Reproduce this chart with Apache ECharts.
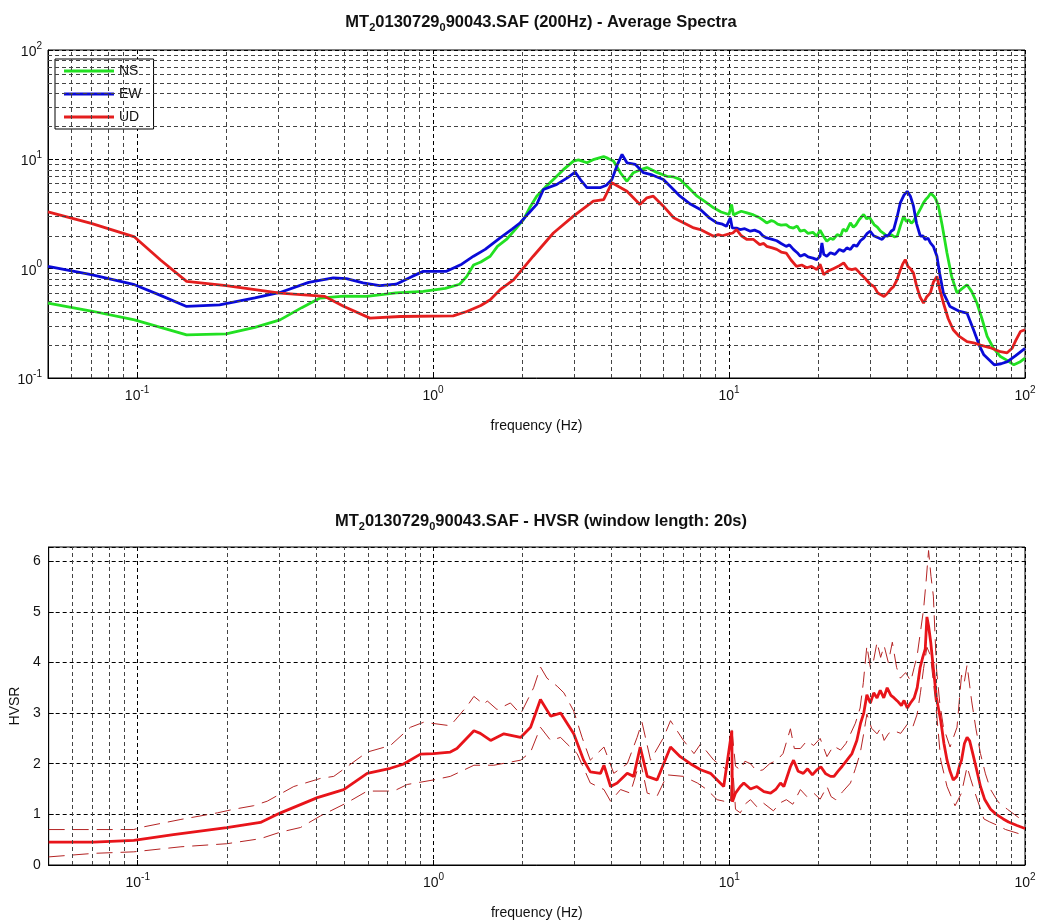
<!DOCTYPE html>
<html><head><meta charset="utf-8">
<script src="https://cdn.jsdelivr.net/npm/echarts@6/dist/echarts.min.js"></script>
<style>html,body{margin:0;padding:0;background:#fff}#c{width:1040px;height:921px}</style>
</head><body><div id="c"></div>
<script>
// ---- Average spectra (top) ----
const nsF = [0.05,0.07,0.098,0.12,0.147,0.2,0.25,0.304,0.36,0.415,0.5,0.597,0.75,0.927,1.1,1.23,1.3,1.37,1.45,1.56,1.65,1.77,1.9,2.02,2.12,2.24,2.4,2.55,2.75,2.98,3.1,3.31,3.5,3.77,3.9,4.07,4.3,4.52,4.75,5.0,5.28,5.7,6.17,6.5,6.83,7.3,7.8,8.3,8.87,9.4,10.0,10.2,10.35,10.7,11.0,11.5,12.1,12.7,13.1,13.4,13.9,14.2,14.6,15.0,15.6,16.0,16.5,17.0,17.4,18.0,18.5,19.2,19.8,20.3,20.8,21.4,22.0,22.5,23.2,23.8,24.3,24.9,25.7,26.3,26.8,27.5,28.5,29.2,29.8,30.9,31.7,32.5,33.3,34.2,35.3,36.2,37.0,38.0,38.9,39.7,40.5,41.3,42.0,42.8,43.5,44.5,45.4,46.2,47.0,48.0,48.5,49.2,49.8,51.0,52.5,54.5,56.5,58.9,61.0,63.7,66.0,68.8,71.5,74.5,78.0,82.6,87.0,91.7,96.0,100];
const nsV = [0.485,0.41,0.34,0.29,0.248,0.253,0.29,0.34,0.44,0.538,0.56,0.557,0.6,0.62,0.66,0.72,0.85,1.08,1.15,1.3,1.6,1.85,2.3,2.81,3.6,4.6,5.6,6.55,8.0,9.64,9.9,9.3,10.0,10.6,10.2,9.64,7.5,6.3,7.55,8.0,8.4,7.6,7.0,6.9,6.55,5.5,4.6,4.1,3.6,3.3,3.13,3.87,3.1,3.25,3.35,3.24,3.1,2.92,2.75,2.62,2.75,2.7,2.55,2.5,2.53,2.4,2.35,2.45,2.2,2.25,2.1,2.15,1.98,2.25,2.0,1.78,1.9,1.85,2.05,1.98,2.3,2.2,2.62,2.4,2.5,2.8,3.13,2.85,2.95,2.53,2.4,2.2,2.1,1.98,2.05,1.95,1.98,2.5,3.02,2.7,2.8,2.6,2.72,3.0,3.2,3.6,4.0,4.3,4.5,4.9,4.77,4.6,4.4,3.73,2.5,1.39,0.85,0.6,0.65,0.713,0.62,0.485,0.35,0.24,0.19,0.157,0.145,0.132,0.14,0.152];

const ewF = [0.05,0.07,0.098,0.12,0.147,0.19,0.25,0.304,0.38,0.46,0.51,0.58,0.66,0.75,0.85,0.927,1.11,1.25,1.37,1.5,1.685,1.85,1.97,2.1,2.24,2.36,2.62,2.85,3.02,3.15,3.31,3.67,3.85,4.02,4.2,4.35,4.52,4.82,5.14,5.5,6.0,6.4,6.83,7.4,8.0,8.6,9.1,9.5,9.8,10.1,10.25,10.6,10.9,11.3,11.8,12.2,12.7,13.0,13.4,14.0,14.5,15.0,15.6,16.0,16.5,17.0,17.4,18.0,18.5,19.2,19.8,20.3,20.6,20.9,21.4,22.0,22.8,23.6,24.4,25.0,25.7,26.4,27.0,27.8,28.5,29.3,30.0,30.8,31.5,32.9,33.7,34.5,35.3,36.0,37.0,37.9,39.0,40.0,41.0,42.0,43.0,44.3,45.2,46.0,47.0,47.9,49.0,50.4,51.5,53.0,55.8,60.2,63.7,67.0,70.0,72.6,78.7,83.0,87.2,93.0,100];
const ewV = [1.05,0.88,0.713,0.57,0.451,0.467,0.54,0.606,0.75,0.822,0.81,0.74,0.7,0.72,0.85,0.945,0.945,1.1,1.3,1.5,1.91,2.3,2.63,3.2,3.87,5.3,5.9,6.8,7.65,6.5,5.5,5.5,5.8,6.55,9.0,11.1,9.3,9.0,7.55,7.2,6.55,5.5,4.6,3.9,3.48,2.9,2.62,2.55,2.44,2.92,2.36,2.35,2.28,2.32,2.2,2.25,2.15,2.0,1.91,1.85,1.8,1.7,1.6,1.65,1.5,1.4,1.3,1.35,1.28,1.25,1.21,1.3,1.72,1.35,1.3,1.4,1.35,1.5,1.44,1.55,1.5,1.65,1.6,1.8,1.9,2.1,2.2,2.0,1.95,1.85,2.0,2.0,2.2,2.28,3.0,4.0,4.7,5.1,4.6,3.73,2.6,1.98,2.0,1.85,1.9,1.72,1.6,1.3,0.9,0.6,0.45,0.406,0.392,0.276,0.2,0.163,0.132,0.135,0.141,0.16,0.187];

const udF = [0.05,0.07,0.098,0.12,0.147,0.2,0.304,0.431,0.5,0.612,0.774,1.17,1.3,1.45,1.56,1.685,1.87,2.18,2.55,2.98,3.48,3.77,4.02,4.52,5.0,5.28,5.55,6.0,6.5,7.6,8.0,8.5,8.87,9.2,9.5,10.0,10.3,10.6,11.0,11.5,12.1,12.7,13.1,13.4,14.0,14.5,15.0,15.6,16.2,16.9,17.6,18.3,19.0,19.8,20.3,20.9,21.6,22.5,23.4,24.4,25.2,26.0,26.8,27.7,28.4,29.0,30.0,30.9,31.8,32.5,33.4,34.4,35.2,36.0,37.0,37.8,38.6,39.4,40.2,41.0,42.0,43.0,44.2,45.4,46.5,47.9,49.0,50.4,51.5,53.0,55.0,57.2,60.0,63.7,67.0,70.7,76.0,82.6,87.0,90.5,93.0,96.5,100];
const udV = [3.31,2.6,1.95,1.2,0.765,0.7,0.598,0.557,0.45,0.353,0.365,0.37,0.406,0.46,0.52,0.642,0.79,1.3,2.12,3.02,4.14,4.28,6.1,5.1,3.87,4.45,4.6,3.73,2.92,2.36,2.28,2.1,1.98,2.05,2.0,2.08,2.12,2.28,2.0,1.85,1.85,1.66,1.7,1.6,1.55,1.5,1.42,1.39,1.2,1.05,1.08,1.02,1.05,0.98,1.1,0.88,0.95,1.0,1.05,1.13,1.0,0.98,1.0,0.91,0.85,0.8,0.72,0.688,0.6,0.58,0.557,0.6,0.65,0.688,0.8,0.95,1.1,1.21,1.05,1.0,0.91,0.7,0.55,0.485,0.55,0.6,0.75,0.85,0.65,0.485,0.35,0.276,0.24,0.215,0.21,0.2,0.19,0.174,0.17,0.187,0.22,0.266,0.276];

// ---- HVSR (bottom) ----
const hvF = [0.05,0.071,0.097,0.132,0.2,0.26,0.304,0.405,0.497,0.597,0.715,0.79,0.904,1.0,1.14,1.2,1.37,1.44,1.56,1.73,1.97,2.13,2.3,2.49,2.69,2.98,3.22,3.39,3.67,3.77,3.97,4.18,4.52,4.75,5.0,5.28,5.7,6.33,6.83,7.39,8.0,8.64,9.58,10.2,10.25,10.5,10.9,11.2,11.8,12.4,13.1,13.8,14.4,14.9,15.3,16.1,16.5,17.1,17.8,18.4,19.1,19.8,20.4,21.2,22.0,22.6,23.3,24.1,25.0,26.0,27.0,27.8,28.5,29.2,30.0,30.8,31.6,32.4,33.3,34.2,35.2,36.1,37.0,38.2,39.0,40.0,41.0,42.2,43.2,44.2,45.1,46.0,46.6,47.2,48.0,49.0,50.2,51.9,53.2,54.5,55.8,57.2,58.8,60.0,61.0,62.4,63.7,65.0,66.6,68.5,70.7,73.0,76.5,80.0,84.4,88.0,94.0,97.0,100];
const hvV = [0.45,0.45,0.485,0.6,0.74,0.84,1.03,1.33,1.49,1.81,1.91,1.99,2.19,2.2,2.23,2.3,2.65,2.6,2.46,2.59,2.52,2.72,3.27,2.94,3.0,2.59,2.07,1.84,1.81,1.97,1.55,1.62,1.81,1.75,2.33,1.75,1.68,2.33,2.14,2.0,1.88,1.81,1.55,2.65,1.25,1.42,1.55,1.62,1.5,1.55,1.45,1.42,1.5,1.62,1.55,1.94,2.07,1.85,1.81,1.9,1.78,1.88,1.94,1.8,1.75,1.75,1.85,1.95,2.07,2.2,2.46,2.8,3.0,3.36,3.2,3.4,3.3,3.45,3.3,3.5,3.35,3.3,3.24,3.15,3.25,3.1,3.2,3.3,3.5,3.9,4.1,4.27,4.9,4.72,4.4,3.88,3.3,2.85,2.4,2.07,1.85,1.68,1.75,1.95,2.07,2.4,2.52,2.45,2.2,1.9,1.55,1.3,1.1,1.0,0.91,0.85,0.78,0.75,0.72];

const hvUpF = [0.05,0.097,0.102,0.14,0.186,0.211,0.246,0.274,0.337,0.415,0.46,0.51,0.597,0.715,0.836,0.927,1.14,1.3,1.37,1.48,1.52,1.64,1.82,1.97,2.18,2.3,2.42,2.62,2.76,2.98,3.18,3.39,3.77,4.07,4.52,4.88,5.07,5.42,6.0,6.33,7.0,7.6,8.0,8.87,9.8,10.2,10.5,10.9,11.3,11.8,12.4,13.0,13.7,14.5,15.2,16.1,16.6,17.4,18.3,19.3,20.3,21.4,22.5,23.8,24.8,25.7,26.7,27.7,28.4,29.2,30.0,30.7,31.6,32.5,33.4,34.5,35.6,36.8,37.9,39.5,41.1,42.2,43.2,44.3,45.4,46.3,47.2,48.1,49.0,50.2,51.5,53.0,55.8,58.9,61.0,62.3,63.7,66.0,68.2,70.7,73.5,76.5,81.0,87.2,92.0,96.5,100];
const hvUpV = [0.7,0.7,0.74,0.9,1.03,1.1,1.17,1.26,1.55,1.71,1.75,1.94,2.23,2.36,2.72,2.82,2.75,3.14,3.33,3.17,3.24,3.07,3.2,2.98,3.5,3.91,3.69,3.53,3.4,3.04,2.52,2.07,2.33,1.81,2.0,2.52,2.82,2.07,2.52,2.85,2.46,2.2,2.39,2.07,1.88,2.7,1.95,1.88,2.05,2.0,1.85,1.88,2.0,2.07,2.2,2.69,2.3,2.3,2.45,2.36,2.5,2.14,2.35,2.27,2.4,2.59,2.8,3.1,3.6,4.33,3.9,4.01,4.4,4.1,4.33,4.0,4.4,3.9,3.69,3.8,3.63,3.9,4.14,4.6,5.05,5.6,6.21,5.7,5.31,3.88,3.2,2.72,2.33,2.72,3.75,3.6,3.95,3.24,2.7,2.2,1.8,1.49,1.25,1.1,1.0,0.91,1.0];

const hvLoF = [0.05,0.071,0.097,0.14,0.2,0.26,0.304,0.355,0.415,0.51,0.597,0.734,0.815,1.0,1.14,1.23,1.37,1.6,1.97,2.13,2.3,2.49,2.69,2.83,3.06,3.39,3.77,3.97,4.29,4.63,5.0,5.28,5.7,6.17,7.0,7.8,8.4,9.1,10.1,10.2,10.5,10.9,11.3,11.8,12.4,13.0,14.1,14.9,15.6,16.4,17.4,18.3,19.3,20.3,21.4,22.1,22.9,24.2,25.7,26.7,27.7,28.5,29.2,30.3,31.6,32.5,33.4,34.6,36.0,38.0,40.0,41.6,43.2,44.3,45.4,46.6,47.9,49.8,51.9,54.5,58.0,61.0,63.7,65.5,67.8,72.6,76.0,80.9,86.0,91.7,100];
const hvLoV = [0.16,0.23,0.26,0.36,0.42,0.52,0.65,0.74,0.97,1.23,1.46,1.46,1.59,1.68,1.75,1.84,1.97,1.97,2.07,2.23,2.72,2.46,2.52,2.39,2.2,1.62,1.49,1.26,1.49,1.42,2.07,1.42,1.36,1.78,1.75,1.62,1.49,1.29,1.23,2.2,1.1,1.03,1.2,1.29,1.15,1.23,1.07,1.23,1.29,1.2,1.49,1.35,1.42,1.3,1.55,1.35,1.29,1.45,1.62,1.9,2.2,2.6,2.98,2.7,2.59,2.7,2.46,2.6,2.65,2.6,2.78,2.7,2.98,3.4,3.88,4.3,4.14,3.24,2.07,1.55,1.17,1.42,1.94,1.7,1.42,0.91,0.85,0.78,0.7,0.65,0.58];

const titleTop = ['MT', '2', '0130729', '0', '90043.SAF (200Hz) - Average Spectra'];
const titleBot = ['MT', '2', '0130729', '0', '90043.SAF - HVSR (window length: 20s)'];
const xName = 'frequency (Hz)';
const yNameBot = 'HVSR';
const legendNames = ['NS', 'EW', 'UD'];

// ---- helpers ----
const FONT = "'Liberation Sans', Arial, Helvetica, sans-serif";
function zip(f, v) { return f.map((x, i) => [x, v[i]]); }
function minorVals(lo, hi) {
  const out = [];
  for (let d = -2; d <= 2; d++) for (let k = 2; k <= 9; k++) {
    const v = +(k * Math.pow(10, d)).toPrecision(6);
    if (v > lo + 1e-9 && v < hi - 1e-9) out.push(v);
  }
  return out;
}
function powLabel(v) {
  const e = Math.log10(v), r = Math.round(e);
  if (Math.abs(e - r) > 1e-6) return '';
  return '{b|10}{s|' + r + '}';
}
const powRich = {
  b: { fontSize: 14, fontFamily: FONT, color: '#111', lineHeight: 18, verticalAlign: 'bottom' },
  s: { fontSize: 10, fontFamily: FONT, color: '#111', verticalAlign: 'top' }
};
function titleText(p) { return '{n|' + p[0] + '}{sub|' + p[1] + '}{n|' + p[2] + '}{sub|' + p[3] + '}{n|' + p[4] + '}'; }
const titleRich = {
  n: { fontSize: 16.5, fontWeight: 'bold', fontFamily: FONT, color: '#111', lineHeight: 19, verticalAlign: 'top' },
  sub: { fontSize: 11, fontWeight: 'bold', fontFamily: FONT, color: '#111', verticalAlign: 'bottom' }
};

const majorSplit = { show: true, lineStyle: { color: '#000', type: [4, 3], width: 1 } };
const xMinor = minorVals(0.05, 100);
const yMinorTop = minorVals(0.1, 100);

function xAxisCfg(gi) {
  return {
    type: 'log', logBase: 10, gridIndex: gi, min: 0.05, max: 100,
    name: xName, nameLocation: 'middle', nameGap: 41,
    nameTextStyle: { fontSize: 14, fontFamily: FONT, color: '#111' },
    axisLine: { show: true, lineStyle: { color: '#000', width: 1 } },
    axisTick: { show: true, inside: true, length: 5, lineStyle: { color: '#000' } },
    axisLabel: { formatter: powLabel, rich: powRich, margin: 7, showMinLabel: false, hideOverlap: false },
    splitLine: majorSplit
  };
}
function gridLines(gi, yMinor) {
  const data = xMinor.map(x => ({ xAxis: x })).concat(yMinor.map(y => ({ yAxis: y })));
  return {
    type: 'line', xAxisIndex: gi, yAxisIndex: gi, data: [], silent: true, z: 1,
    markLine: { silent: true, animation: false, symbol: ['none', 'none'], label: { show: false },
      lineStyle: { color: '#444', type: [4, 3], width: 1 }, emphasis: { disabled: true }, data }
  };
}
function line(name, f, v, color, gi, width, extra) {
  return Object.assign({
    name, type: 'line', xAxisIndex: gi, yAxisIndex: gi, data: zip(f, v),
    symbol: 'none', showSymbol: false, z: 3, clip: true,
    lineStyle: { color, width }, itemStyle: { color }, emphasis: { disabled: true }
  }, extra || {});
}

const option = {
  animation: false,
  backgroundColor: '#fff',
  title: [
    { text: titleText(titleTop), left: 536, top: 9, textAlign: 'center', textStyle: { rich: titleRich } },
    { text: titleText(titleBot), left: 536, top: 508, textAlign: 'center', textStyle: { rich: titleRich } }
  ],
  legend: {
    data: legendNames.map(n => ({ name: n, icon: 'rect' })), orient: 'vertical', left: 55, top: 59,
    itemWidth: 50, itemHeight: 3, itemGap: 9, padding: [5, 12, 5, 9],
    borderColor: '#000', borderWidth: 1, backgroundColor: '#fff',
    textStyle: { fontSize: 14, fontFamily: FONT, color: '#111' },
    selectedMode: false
  },
  grid: [
    { left: 48, right: 15, top: 50, height: 328, show: true, borderColor: '#000', borderWidth: 1, backgroundColor: 'transparent' },
    { left: 48, right: 15, top: 547, height: 323, show: true, borderColor: '#000', borderWidth: 1, backgroundColor: 'transparent' }
  ],
  xAxis: [xAxisCfg(0), xAxisCfg(1)],
  yAxis: [
    { type: 'log', logBase: 10, gridIndex: 0, min: 0.1, max: 100,
      axisLine: { show: true, lineStyle: { color: '#000' } },
      axisTick: { show: true, inside: true, length: 5, lineStyle: { color: '#000' } },
      axisLabel: { formatter: powLabel, rich: powRich, margin: 6 },
      splitLine: majorSplit },
    { type: 'value', gridIndex: 1, min: 0, max: 6.28, interval: 1,
      name: yNameBot, nameLocation: 'middle', nameGap: 22, nameRotate: 90,
      nameTextStyle: { fontSize: 14, fontFamily: FONT, color: '#111' },
      axisLine: { show: true, lineStyle: { color: '#000' } },
      axisTick: { show: true, inside: true, length: 5, lineStyle: { color: '#000' } },
      axisLabel: { formatter: v => (Math.abs(v - Math.round(v)) < 1e-9 ? String(Math.round(v)) : ''), fontSize: 14, fontFamily: FONT, color: '#111', margin: 8 },
      splitLine: majorSplit }
  ],
  series: [
    gridLines(0, yMinorTop),
    gridLines(1, []),
    line('NS', nsF, nsV, '#22e022', 0, 2.8),
    line('EW', ewF, ewV, '#0a0ad8', 0, 2.8),
    line('UD', udF, udV, '#e41e1e', 0, 2.8),
    line('upper', hvUpF, hvUpV, '#b42424', 1, 1, { lineStyle: { color: '#b42424', width: 1, type: [16, 8] } }),
    line('lower', hvLoF, hvLoV, '#b42424', 1, 1, { lineStyle: { color: '#b42424', width: 1, type: [16, 8] } }),
    line('mean', hvF, hvV, '#e8141a', 1, 2.8)
  ]
};
const chart = echarts.init(document.getElementById('c'), null, { renderer: 'canvas' });
chart.setOption(option);
</script>
</body></html>
